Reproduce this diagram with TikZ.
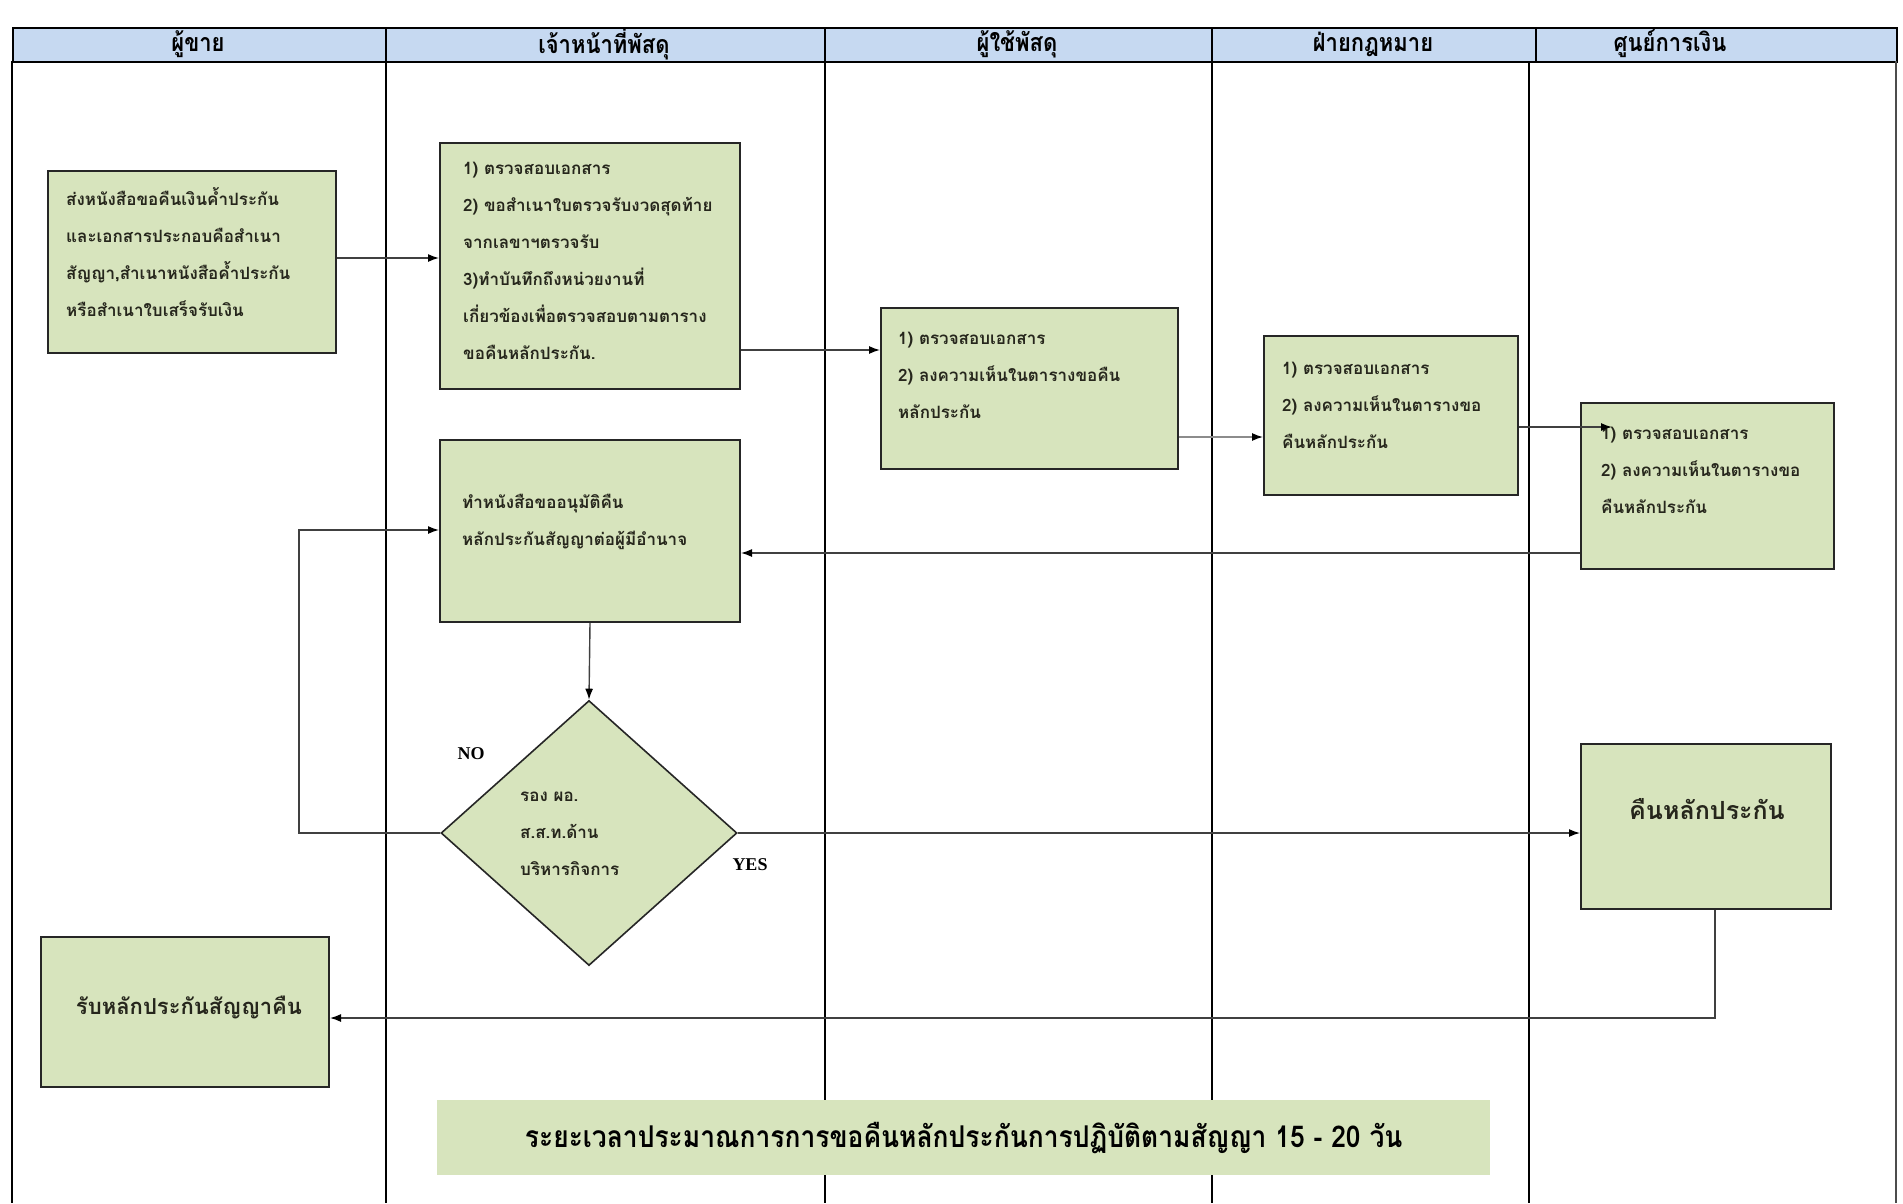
\documentclass[tikz,border=0pt]{standalone}
\usepackage{fontspec}
\setmainfont{Liberation Serif}
\newfontfamily\thai[Script=Thai]{Loma}
\usetikzlibrary{arrows.meta,shapes.geometric}

\definecolor{hdrblue}{HTML}{C6D9F1}
\definecolor{boxgreen}{HTML}{D7E4BD}
\definecolor{inkdark}{HTML}{26261C}

\begin{document}
\begin{tikzpicture}[x=1pt,y=-1pt,
  lane/.style={draw=black, line width=1.6pt},
  stepbox/.style={draw=black!85, line width=2pt, fill=boxgreen, inner sep=0pt, anchor=north west},
  body/.style={font=\thai\bfseries\fontsize{17}{37}\selectfont, text=inkdark, anchor=west, align=left, inner sep=0pt},
  big/.style={font=\thai\bfseries\fontsize{22}{24}\selectfont, text=inkdark, inner sep=0pt},
  hdr/.style={font=\thai\bfseries\fontsize{25}{26}\selectfont, text=black, inner sep=0pt},
  yn/.style={font=\bfseries\fontsize{18}{20}\selectfont, text=black, inner sep=0pt},
  arr/.style={draw=black!75, line width=1.4pt, -{Latex[length=11pt,width=8pt,color=black]}},
]
% page
\fill[white] (0,0) rectangle (1903,1203);
\useasboundingbox (0,0) rectangle (1903,1203);

% header band and lanes
\node[draw=black, line width=1.6pt, fill=hdrblue, anchor=north west, minimum width=1884pt, minimum height=34pt, inner sep=0pt] (head) at (12,27) {};
\foreach \hx in {386,825,1212,1536} \draw[lane] (\hx,27) -- (\hx,61);
\foreach \lx in {12,386,825,1212,1529} \draw[lane] (\lx,61) -- (\lx,1203);
\draw[lane, draw=black!70] (1896,61) -- (1896,1203);

\node[hdr] (h1) at (198,44) {\scalebox{0.88}[1]{ผู้ขาย}};
\node[hdr] (h2) at (604,44) {\scalebox{0.88}[1]{เจ้าหน้าที่พัสดุ}};
\node[hdr] (h3) at (1017,44) {\scalebox{0.88}[1]{ผู้ใช้พัสดุ}};
\node[hdr] (h4) at (1373,44) {\scalebox{0.88}[1]{ฝ่ายกฎหมาย}};
\node[hdr] (h5) at (1670,44) {\scalebox{0.88}[1]{ศูนย์การเงิน}};

% process boxes
\node[stepbox, minimum width=288pt, minimum height=182pt] (seller) at (47,170) {};
\node[body] (sellerT) at (66,252) {ส่งหนังสือขอคืนเงินค้ำประกัน\\และเอกสารประกอบคือสำเนา\\สัญญา,สำเนาหนังสือค้ำประกัน\\หรือสำเนาใบเสร็จรับเงิน};

\node[stepbox, minimum width=300pt, minimum height=246pt] (staffA) at (439,142) {};
\node[body] (staffAT) at (463,261) {1) ตรวจสอบเอกสาร\\2) ขอสำเนาใบตรวจรับงวดสุดท้าย\\จากเลขาฯตรวจรับ\\3)ทำบันทึกถึงหน่วยงานที่\\เกี่ยวข้องเพื่อตรวจสอบตามตาราง\\ขอคืนหลักประกัน.};

\node[stepbox, minimum width=297pt, minimum height=161pt] (user) at (880,307) {};
\node[body] (userT) at (898,375) {1) ตรวจสอบเอกสาร\\2) ลงความเห็นในตารางขอคืน\\หลักประกัน};

\node[stepbox, minimum width=254pt, minimum height=159pt] (legal) at (1263,335) {};
\node[body] (legalT) at (1282,405) {1) ตรวจสอบเอกสาร\\2) ลงความเห็นในตารางขอ\\คืนหลักประกัน};

\node[stepbox, minimum width=253pt, minimum height=166pt] (fin) at (1580,402) {};
\node[body] (finT) at (1601,470) {1) ตรวจสอบเอกสาร\\2) ลงความเห็นในตารางขอ\\คืนหลักประกัน};

\node[stepbox, minimum width=300pt, minimum height=182pt] (staffB) at (439,439) {};
\node[body] (staffBT) at (462,522) {ทำหนังสือขออนุมัติคืน\\หลักประกันสัญญาต่อผู้มีอำนาจ};

\node[diamond, draw=black!85, line width=1.6pt, fill=boxgreen, inner sep=0pt, minimum width=296pt, minimum height=265pt] (dec) at (589,833) {};
\node[body] (decT) at (520,834) {รอง ผอ.\\ส.ส.ท.ด้าน\\บริหารกิจการ};
\node[yn] (no) at (471,754) {NO};
\node[yn] (yes) at (750,865) {YES};

\node[stepbox, minimum width=250pt, minimum height=165pt] (ret) at (1580,743) {};
\node[big, font=\thai\bfseries\fontsize{25}{27}\selectfont] (retT) at (1707,809) {คืนหลักประกัน};

\node[stepbox, minimum width=288pt, minimum height=150pt] (recv) at (40,936) {};
\node[big] (recvT) at (189,1007) {รับหลักประกันสัญญาคืน};

\node[fill=boxgreen, anchor=north west, minimum width=1053pt, minimum height=75pt, inner sep=0pt] (dur) at (437,1100) {};
\node[font=\thai\bfseries\fontsize{30}{32}\selectfont, text=black, inner sep=0pt] (durT) at (dur.center) {\scalebox{0.88}[1]{ระยะเวลาประมาณการการขอคืนหลักประกันการปฏิบัติตามสัญญา 15 - 20 วัน}};

% flow
\coordinate (finIn) at (1612,427);
\coordinate (noBend) at (299,530);
\draw[arr] (seller.east |- 0,258) -- (staffA.west |- 0,258);
\draw[arr] (staffA.east |- 0,350) -- (user.west |- 0,350);
\draw[arr, draw=black!45] (user.east |- 0,437) -- (legal.west |- 0,437);
\draw[arr] (legal.east |- finIn) -- (finIn);
\draw[arr] (fin.west |- 0,553) -- (staffB.east |- 0,553);
\draw[arr] (staffB.south) -- (dec.north);
\draw[arr] (dec.west) -| (noBend) -- (staffB.west |- noBend);
\draw[arr] (dec.east) -- (ret.west |- dec.east);
\draw[arr] (ret.south -| 1715,0) |- (recv.east |- 0,1018);
\end{tikzpicture}
\end{document}
